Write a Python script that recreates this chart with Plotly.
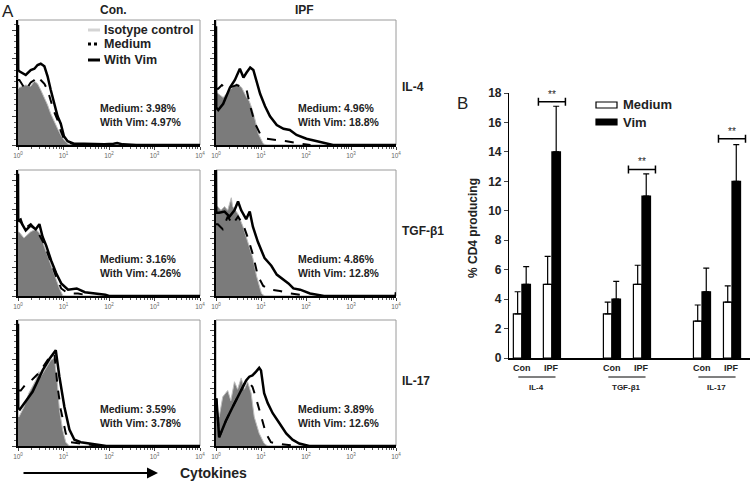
import plotly.graph_objects as go

W, H = 750, 481
FONT = "Liberation Sans, Arial, sans-serif"

# ---------------- Panel A data (x = log10 fluorescence, y = % of panel height) -------------
PANEL_TITLES_COL = ["Con.", "IPF"]
PANEL_ROW_LABELS = ["IL-4", "TGF-β1", "IL-17"]
MEDIUM_PCT = ["3.98%", "4.96%", "3.16%", "4.86%", "3.59%", "3.89%"]
VIM_PCT = ["4.97%", "18.8%", "4.26%", "12.8%", "3.78%", "12.6%"]
LEGEND_A = ["Isotype control", "Medium", "With Vim"]

# Con, IL-4
CON_IL4_ISO_X = [0, 0.03, 0.17, 0.28, 0.36, 0.43, 0.50, 0.58, 0.65, 0.72, 0.79, 0.87, 0.94, 1.01, 1.09, 1.2]
CON_IL4_ISO_Y = [45, 46, 48, 47, 51, 49, 44, 38, 32, 25, 19, 13, 8, 4, 1, 0]
CON_IL4_MED_X = [0, 0.03, 0.17, 0.28, 0.36, 0.43, 0.50, 0.58, 0.65, 0.72, 0.79, 0.87, 0.94, 1.01, 1.09, 1.2, 1.4]
CON_IL4_MED_Y = [52, 52, 44, 50, 52, 55, 52, 49, 44, 36, 27, 20, 11, 5, 2, 1, 0]
CON_IL4_VIM_X = [0, 0.005, 0.03, 0.17, 0.28, 0.36, 0.43, 0.50, 0.58, 0.65, 0.72, 0.79, 0.87, 0.94, 1.01, 1.09,
                 1.23, 1.45, 1.9, 2.1, 2.18, 2.3, 2.6, 4]
CON_IL4_VIM_Y = [96, 60, 59, 56, 60, 61, 64, 65, 63, 55, 44, 33, 23, 17, 7, 3, 1, 1, 0.5, 1, 1.5, 0.5, 0, 0]

# IPF, IL-4
IPF_IL4_ISO_X = [0, 0.05, 0.16, 0.31, 0.46, 0.57, 0.68, 0.74, 0.79, 0.87, 0.94, 1.05, 1.12]
IPF_IL4_ISO_Y = [42, 41, 38, 44, 49, 46, 38, 35, 30, 20, 9, 1, 0]
IPF_IL4_MED_X = [0, 0.05, 0.13, 0.24, 0.31, 0.46, 0.61, 0.68, 0.76, 0.87, 0.98, 1.13, 1.35, 1.57, 1.87, 2.1]
IPF_IL4_MED_Y = [45, 45, 48, 45, 46, 48, 46, 44, 31, 17, 9, 5, 4, 3, 1, 0]
IPF_IL4_VIM_X = [0, 0.005, 0.05, 0.16, 0.31, 0.42, 0.53, 0.61, 0.68, 0.76, 0.83, 0.90, 0.98, 1.09, 1.2,
                 1.35, 1.5, 1.64, 1.79, 2.01, 2.24, 2.46, 2.6, 4]
IPF_IL4_VIM_Y = [95, 30, 28, 33, 46, 52, 61, 54, 58, 62, 60, 52, 41, 31, 23, 16, 13, 12, 8, 5, 3, 1, 0, 0]

# Con, TGF-b1
CON_TGF_ISO_X = [0, 0.02, 0.13, 0.28, 0.39, 0.47, 0.58, 0.69, 0.80, 0.91, 0.99, 1.05]
CON_TGF_ISO_Y = [51, 51, 46, 51, 53, 50, 39, 28, 17, 6, 0, 0]
CON_TGF_MED_X = [0, 0.06, 0.13, 0.28, 0.43, 0.58, 0.69, 0.84, 0.95, 1.10, 1.32, 1.47, 1.6]
CON_TGF_MED_Y = [60, 61, 53, 57, 51, 41, 30, 15, 6, 2, 2, 1, 0]
CON_TGF_VIM_X = [0, 0.005, 0.06, 0.17, 0.28, 0.39, 0.47, 0.54, 0.62, 0.73, 0.84, 0.95, 1.10, 1.29, 1.47,
                 1.70, 1.92, 2.0, 4]
CON_TGF_VIM_Y = [97, 60, 59, 52, 56, 53, 57, 47, 40, 28, 18, 10, 5, 6, 3, 2, 1, 0, 0]

# IPF, TGF-b1
IPF_TGF_ISO_X = [0, 0.04, 0.11, 0.19, 0.26, 0.34, 0.37, 0.49, 0.60, 0.71, 0.82, 0.90, 1.01, 1.08]
IPF_TGF_ISO_Y = [71, 71, 68, 71, 68, 78, 71, 65, 55, 43, 30, 16, 2, 0]
IPF_TGF_MED_X = [0, 0.04, 0.15, 0.26, 0.37, 0.49, 0.60, 0.71, 0.82, 0.93, 1.05, 1.20, 1.42, 1.64, 1.87, 2.0]
IPF_TGF_MED_Y = [57, 57, 53, 63, 57, 63, 57, 46, 33, 16, 8, 5, 4, 2, 1, 0]
IPF_TGF_VIM_X = [0, 0.005, 0.07, 0.19, 0.30, 0.41, 0.49, 0.56, 0.67, 0.75, 0.82, 0.93, 1.08, 1.23, 1.35,
                 1.50, 1.61, 1.72, 1.87, 2.09, 2.24, 2.4, 3.99, 4.0]
IPF_TGF_VIM_Y = [100, 66, 66, 67, 63, 68, 75, 68, 61, 67, 55, 43, 30, 24, 17, 13, 10, 6, 5, 2, 1, 0, 0, 3]

# Con, IL-17
CON_IL17_ISO_X = [0, 0.02, 0.13, 0.24, 0.39, 0.46, 0.50, 0.61, 0.72, 0.80, 0.87, 0.91, 0.98, 1.05, 1.13]
CON_IL17_ISO_Y = [24, 23, 31, 42, 52, 59, 55, 62, 68, 70, 48, 29, 13, 3, 0]
CON_IL17_MED_X = [0, 0.06, 0.17, 0.32, 0.46, 0.61, 0.72, 0.80, 0.87, 0.94, 1.05, 1.16, 1.35, 1.64, 1.8]
CON_IL17_MED_Y = [44, 44, 49, 53, 58, 66, 72, 73, 47, 29, 10, 3, 2, 1, 0]
CON_IL17_VIM_X = [0, 0.005, 0.04, 0.32, 0.54, 0.69, 0.83, 0.91, 1.02, 1.13, 1.24, 1.38, 1.57, 1.79, 1.94, 4]
CON_IL17_VIM_Y = [97, 30, 29, 43, 60, 69, 76, 55, 31, 13, 5, 3, 2, 1, 0, 0]

# IPF, IL-17
IPF_IL17_ISO_X = [0, 0.01, 0.07, 0.15, 0.26, 0.33, 0.41, 0.48, 0.56, 0.63, 0.70, 0.78, 0.85, 0.96, 1.07, 1.15]
IPF_IL17_ISO_Y = [31, 31, 23, 39, 44, 36, 51, 45, 54, 45, 51, 42, 23, 10, 2, 0]
IPF_IL17_MED_X = [0, 0.01, 0.07, 0.22, 0.37, 0.52, 0.67, 0.74, 0.81, 0.89, 0.96, 1.04, 1.11, 1.22, 1.33, 1.56, 1.8]
IPF_IL17_MED_Y = [37, 37, 7, 20, 31, 42, 52, 50, 47, 38, 29, 18, 10, 3, 2, 1, 0]
IPF_IL17_VIM_X = [0, 0.01, 0.07, 0.22, 0.37, 0.52, 0.67, 0.74, 0.81, 0.89, 0.96, 1.0, 1.07, 1.15, 1.26,
                  1.41, 1.56, 1.70, 1.85, 1.96, 2.07, 4]
IPF_IL17_VIM_Y = [37, 37, 7, 20, 31, 42, 52, 55, 56, 59, 62, 60, 42, 34, 26, 18, 10, 5, 2, 1, 0, 0]

PANELS = [
    (CON_IL4_ISO_X, CON_IL4_ISO_Y, CON_IL4_MED_X, CON_IL4_MED_Y, CON_IL4_VIM_X, CON_IL4_VIM_Y),
    (IPF_IL4_ISO_X, IPF_IL4_ISO_Y, IPF_IL4_MED_X, IPF_IL4_MED_Y, IPF_IL4_VIM_X, IPF_IL4_VIM_Y),
    (CON_TGF_ISO_X, CON_TGF_ISO_Y, CON_TGF_MED_X, CON_TGF_MED_Y, CON_TGF_VIM_X, CON_TGF_VIM_Y),
    (IPF_TGF_ISO_X, IPF_TGF_ISO_Y, IPF_TGF_MED_X, IPF_TGF_MED_Y, IPF_TGF_VIM_X, IPF_TGF_VIM_Y),
    (CON_IL17_ISO_X, CON_IL17_ISO_Y, CON_IL17_MED_X, CON_IL17_MED_Y, CON_IL17_VIM_X, CON_IL17_VIM_Y),
    (IPF_IL17_ISO_X, IPF_IL17_ISO_Y, IPF_IL17_MED_X, IPF_IL17_MED_Y, IPF_IL17_VIM_X, IPF_IL17_VIM_Y),
]

X_TICK_EXP = [0, 1, 2, 3, 4]

# ---------------- Panel B data ----------------
CYTOKINES = ["IL-4", "TGF-β1", "IL-17"]
GROUPS = ["Con", "IPF"]
SERIES_B = ["Medium", "Vim"]
MEDIUM_MEAN = [3.0, 5.0, 3.0, 5.0, 2.5, 3.8]
MEDIUM_ERR = [1.5, 1.9, 0.8, 1.3, 1.1, 1.1]
VIM_MEAN = [5.0, 14.0, 4.0, 11.0, 4.5, 12.0]
VIM_ERR = [1.2, 3.1, 1.2, 1.5, 1.6, 2.5]
SIG_LEVEL = [17.4, 12.8, 14.9]
SIG_TEXT = ["**", "**", "**"]
Y_TICKS_B = [0, 2, 4, 6, 8, 10, 12, 14, 16, 18]

# ---------------- helpers ----------------
def fx(px):
    return px / W


def fy(py):
    return 1 - py / H


def txt(x, y, text, size, bold=True, anchor="center", **kw):
    fig.add_annotation(x=fx(x), y=fy(y), xref="paper", yref="paper", xanchor=anchor, yanchor="middle",
                       showarrow=False, text=text,
                       font=dict(size=size, family=FONT, color="#222", weight="bold" if bold else "normal"),
                       **kw)


fig = go.Figure()

COL_X = [(18, 200), (216, 396)]
ROW_Y = [(20, 145), (170, 296), (320, 446)]
ISO_FILL = "#7b7b7b"

for i, (ix, iy, mx, my, vx, vy) in enumerate(PANELS):
    r, c = divmod(i, 2)
    n = i + 1
    xa = "x" if n == 1 else f"x{n}"
    ya = "y" if n == 1 else f"y{n}"
    fig.add_trace(go.Scatter(x=[10 ** v for v in ix], y=iy, mode="lines", fill="tozeroy",
                             fillcolor=ISO_FILL, line=dict(color="#bdbdbd", width=1),
                             xaxis=xa, yaxis=ya, showlegend=False, hoverinfo="skip"))
    fig.add_trace(go.Scatter(x=[10 ** v for v in mx], y=my, mode="lines",
                             line=dict(color="black", width=2, dash="dash"),
                             xaxis=xa, yaxis=ya, showlegend=False, hoverinfo="skip"))
    fig.add_trace(go.Scatter(x=[10 ** v for v in vx], y=vy, mode="lines",
                             line=dict(color="black", width=2.5),
                             xaxis=xa, yaxis=ya, showlegend=False, hoverinfo="skip"))
    x0, x1 = COL_X[c]
    y0, y1 = ROW_Y[r]
    fig.layout[f"xaxis{n}" if n > 1 else "xaxis"] = dict(
        type="log", range=[0, 4], domain=[fx(x0), fx(x1)], anchor=ya,
        showline=True, linecolor="black", linewidth=1.5, ticks="outside", ticklen=3,
        tickcolor="#444", tickvals=[10 ** e for e in X_TICK_EXP],
        ticktext=[f"10<sup>{e}</sup>" for e in X_TICK_EXP],
        tickfont=dict(size=6.5, color="#666", family=FONT),
        minor=dict(ticks="outside", ticklen=2, tickcolor="#555", dtick="D1"),
        showgrid=False, zeroline=False, fixedrange=True)
    fig.layout[f"yaxis{n}" if n > 1 else "yaxis"] = dict(
        range=[0, 100], domain=[fy(y1), fy(y0)], anchor=xa,
        showline=True, linecolor="black", linewidth=1.5, ticks="outside", ticklen=4,
        tickcolor="#444", tickvals=[0, 23, 46, 69, 92], showticklabels=False,
        minor=dict(ticks="outside", ticklen=2, tickcolor="#666", dtick=4.6, tick0=0),
        showgrid=False, zeroline=False, fixedrange=True)
    fig.add_shape(type="rect", xref=f"{xa} domain", yref=f"{ya} domain", x0=0, x1=1, y0=0, y1=1,
                  line=dict(color="#9a9a9a", width=1), layer="below")
    txt(x0 + 80, y1 - 37, f"Medium: {MEDIUM_PCT[i]}", 10.5, anchor="left")
    txt(x0 + 80, y1 - 23, f"With Vim: {VIM_PCT[i]}", 10.5, anchor="left")

# manual legend for panel A (short swatches as in the reference)
LEG_A_Y = [30, 44, 60]
LEG_A_STYLE = [dict(color="#d4d4d4", width=3), dict(color="black", width=3, dash="dot"),
               dict(color="black", width=3)]
for k, name in enumerate(LEGEND_A):
    fig.add_shape(type="line", xref="paper", yref="paper", x0=fx(88), x1=fx(100),
                  y0=fy(LEG_A_Y[k]), y1=fy(LEG_A_Y[k]), line=LEG_A_STYLE[k])
    txt(102, LEG_A_Y[k], name, 12.5, anchor="left")

# titles / labels
for c, t in enumerate(PANEL_TITLES_COL):
    txt([113, 304][c], 10, t, 12)
for r, t in enumerate(PANEL_ROW_LABELS):
    txt(400, [87, 231, 381][r], t, 12, anchor="left")
txt(8, 11, "A", 17, bold=False)
txt(462, 103, "B", 17, bold=False)

# Cytokines arrow
fig.add_annotation(x=fx(158), y=fy(473), xref="paper", yref="paper", ax=-136, ay=0, text="",
                   showarrow=True, arrowhead=2, arrowsize=1, arrowwidth=2.2, arrowcolor="black")
txt(178, 473, "Cytokines", 14, anchor="left")

# ---------------- Panel B ----------------
pos = [ci * 3 + gi for ci in range(len(CYTOKINES)) for gi in range(len(GROUPS))]
fig.add_trace(go.Bar(x=pos, y=MEDIUM_MEAN, name=SERIES_B[0], xaxis="x7", yaxis="y7", showlegend=False,
                     marker=dict(color="white", line=dict(color="black", width=1.2)),
                     error_y=dict(type="data", array=MEDIUM_ERR, arrayminus=[0] * 6, symmetric=False,
                                  color="black", thickness=1.2, width=3)))
fig.add_trace(go.Bar(x=pos, y=VIM_MEAN, name=SERIES_B[1], xaxis="x7", yaxis="y7", showlegend=False,
                     marker=dict(color="black", line=dict(color="black", width=1.2)),
                     error_y=dict(type="data", array=VIM_ERR, arrayminus=[0] * 6, symmetric=False,
                                  color="black", thickness=1.2, width=3)))
ipf_pos = [ci * 3 + 1 for ci in range(len(CYTOKINES))]
fig.add_trace(go.Scatter(x=ipf_pos, y=SIG_LEVEL, mode="markers+text", text=SIG_TEXT, cliponaxis=False,
                         textposition="top center", textfont=dict(size=10, family=FONT, color="#222"),
                         marker=dict(size=1, color="black"), xaxis="x7", yaxis="y7", showlegend=False,
                         error_x=dict(type="constant", value=0.45, color="black", thickness=1.5, width=4)))

fig.layout.xaxis7 = dict(domain=[fx(509), 1], range=[-0.43, 7.6], anchor="y7", showline=True,
                         linecolor="black", linewidth=1.5, ticks="", showticklabels=False,
                         showgrid=False, zeroline=False, fixedrange=True)
fig.layout.yaxis7 = dict(domain=[fy(358), fy(93)], range=[0, 18], anchor="x7", showline=True,
                         linecolor="black", linewidth=1.2, ticks="outside", ticklen=4,
                         tickvals=Y_TICKS_B, tickfont=dict(size=12, family=FONT, color="#222", weight="bold"),
                         showgrid=False, zeroline=False, fixedrange=True)

for ci, cname in enumerate(CYTOKINES):
    for gi, g in enumerate(GROUPS):
        fig.add_annotation(x=ci * 3 + gi, y=fy(368), xref="x7", yref="paper", yanchor="middle",
                           showarrow=False, text=g,
                           font=dict(size=9, family=FONT, color="#222", weight="bold"))
    mid = ci * 3 + 0.5
    fig.add_shape(type="line", xref="x7", yref="paper", x0=mid - 0.62, x1=mid + 0.62,
                  y0=fy(377), y1=fy(377), line=dict(color="black", width=1))
    fig.add_annotation(x=mid, y=fy(387), xref="x7", yref="paper", yanchor="middle",
                       showarrow=False, text=cname,
                       font=dict(size=8, family=FONT, color="#222", weight="bold"))

# manual legend for panel B (flat rectangles as in the reference)
LEG_B_Y = [105, 122]
LEG_B_FILL = ["white", "black"]
for k, name in enumerate(SERIES_B):
    fig.add_shape(type="rect", xref="paper", yref="paper", x0=fx(596), x1=fx(617),
                  y0=fy(LEG_B_Y[k] + 3), y1=fy(LEG_B_Y[k] - 3),
                  line=dict(color="black", width=1.2), fillcolor=LEG_B_FILL[k])
    txt(621, LEG_B_Y[k], name, 13, anchor="left")

fig.add_annotation(x=fx(473), y=fy(228), xref="paper", yref="paper", showarrow=False, textangle=-90,
                   text="% CD4 producing", font=dict(size=12, family=FONT, color="#222", weight="bold"))

fig.update_layout(
    width=W, height=H, margin=dict(l=0, r=0, t=0, b=0, pad=0, autoexpand=False),
    paper_bgcolor="white", plot_bgcolor="white",
    barmode="group", bargap=0.43, bargroupgap=0,
    font=dict(family=FONT, color="#222"),
    showlegend=False,
)

fig.write_html("out.html", config={"displayModeBar": False},
               post_script="document.body.style.margin='0px';")
